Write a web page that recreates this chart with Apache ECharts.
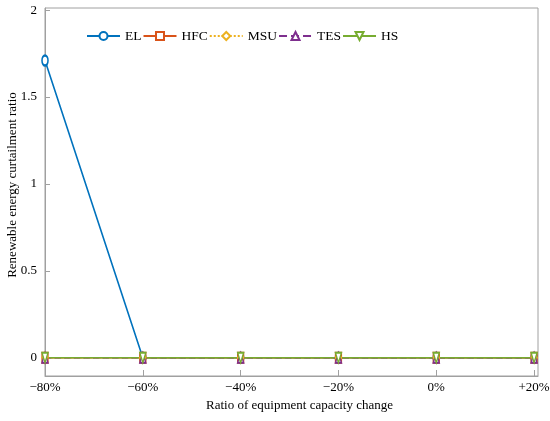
<!DOCTYPE html>
<html>
<head>
<meta charset="utf-8">
<script src="https://cdn.jsdelivr.net/npm/echarts@6/dist/echarts.min.js"></script>
<style>
  html, body { margin: 0; padding: 0; background: #fff; }
  #main { width: 550px; height: 421px; }
</style>
</head>
<body>
<div id="main"></div>
<script>
// capacity change in percent, with its tick labels
var capacityChange = [-80, -60, -40, -20, 0, 20];
var xTickLabels = ['\u221280%', '\u221260%', '\u221240%', '\u221220%', '0%', '+20%'];
var elData  = [1.71, 0, 0, 0, 0, 0];
var hfcData = [0, 0, 0, 0, 0, 0];
var msuData = [0, 0, 0, 0, 0, 0];
var tesData = [0, 0, 0, 0, 0, 0];
var hsData  = [0, 0, 0, 0, 0, 0];
var yTicks  = [0, 0.5, 1, 1.5, 2];

var font = 'Liberation Serif';
var axisColor = '#a0a0a0';

var myChart = echarts.init(document.getElementById('main'));

function line(name, data, color, symbol, type) {
    return {
        name: name,
        type: 'line',
        data: data.map(function (v, i) { return [capacityChange[i], v]; }),
        symbol: symbol,
        symbolSize: [6, 10],
        showAllSymbol: true,
        lineStyle: { color: color, width: 1.6, type: type },
        itemStyle: { color: color, borderColor: color, borderWidth: 1.6 },
        emphasis: { disabled: true }
    };
}

var option = {
    backgroundColor: '#fff',
    animation: false,
    textStyle: { fontFamily: font },
    grid: {
        left: 45, right: 12, top: 8, bottom: 45,
        outerBoundsMode: 'none',
        containLabel: false,
        show: true, borderColor: axisColor, borderWidth: 1
    },
    legend: {
        left: 81, top: 24,
        itemWidth: 33, itemHeight: 10, itemGap: 1,
        textStyle: { fontFamily: font, fontSize: 13.5, color: '#000' },
        data: ['EL', 'HFC', 'MSU', 'TES', 'HS']
    },
    xAxis: {
        type: 'value',
        min: -80,
        max: 20.8,
        name: 'Ratio of equipment capacity change',
        nameLocation: 'middle',
        nameGap: 23,
        nameTextStyle: { fontFamily: font, fontSize: 13, color: '#000', padding: [0, 0, 0, 16] },
        axisLine: { onZero: false, lineStyle: { color: axisColor } },
        axisTick: { inside: true, length: 6, customValues: capacityChange, lineStyle: { color: axisColor } },
        axisLabel: {
            fontFamily: font, fontSize: 13, color: '#000', margin: 5,
            customValues: capacityChange,
            formatter: function (v) { return xTickLabels[capacityChange.indexOf(v)]; }
        },
        splitLine: { show: false }
    },
    yAxis: {
        type: 'value',
        min: -0.105,
        max: 2.012,
        name: 'Renewable energy curtailment ratio',
        nameLocation: 'middle',
        nameGap: 26,
        nameMoveOverlap: false,
        nameTextStyle: { fontFamily: font, fontSize: 13, color: '#000', padding: [0, 0, 0, 14] },
        axisLine: { show: true, onZero: false, lineStyle: { color: axisColor } },
        axisTick: { show: true, inside: true, length: 5, customValues: yTicks, lineStyle: { color: axisColor } },
        axisLabel: { fontFamily: font, fontSize: 13, color: '#000', margin: 8, customValues: yTicks },
        splitLine: { show: false }
    },
    series: [
        line('EL', elData, '#0072BD', 'emptyCircle', 'solid'),
        line('HFC', hfcData, '#D95319', 'rect', 'solid'),
        line('MSU', msuData, '#EDB120', 'diamond', 'dotted'),
        line('TES', tesData, '#7E2F8E', 'triangle', 'dashed'),
        line('HS', hsData, '#77AC30', 'path://M0,0 L10,0 L5,10 Z', 'solid')
    ]
};

// hollow markers for the non-circle symbols
option.series.forEach(function (s) {
    if (s.symbol !== 'emptyCircle') {
        s.itemStyle.color = '#fff';
    }
});

myChart.setOption(option);
</script>
</body>
</html>
